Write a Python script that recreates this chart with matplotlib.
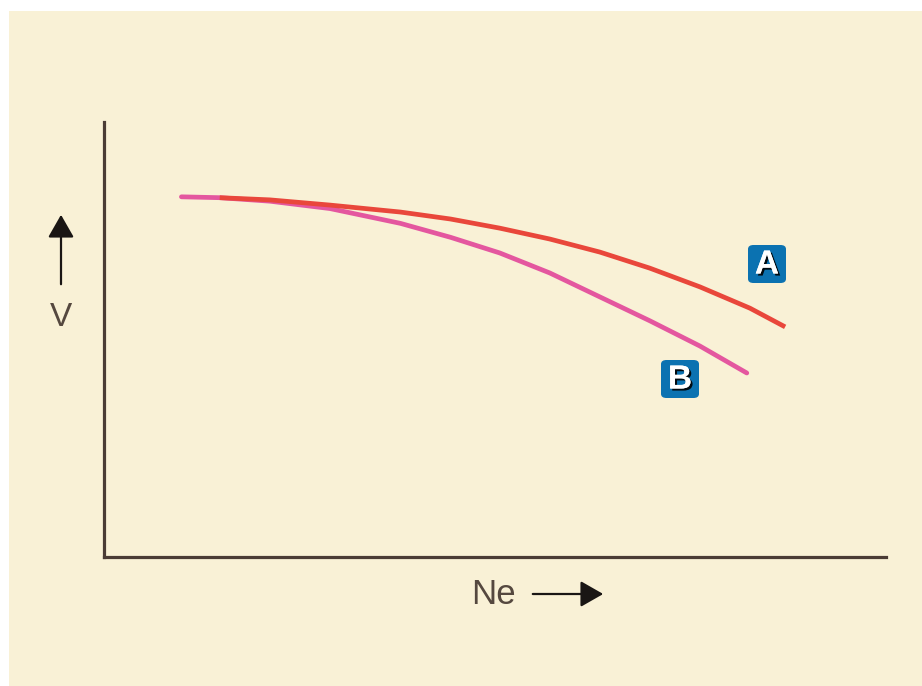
import matplotlib.pyplot as plt
import matplotlib.patheffects as pe
from matplotlib.patches import Rectangle, FancyBboxPatch, FancyArrowPatch

# values (arbitrary units, axes span 0..10)
ne_a = [1.48, 2.12, 2.89, 3.79, 4.43, 5.06, 5.70, 6.34, 6.98, 7.62, 8.26, 8.71]
v_a = [8.26, 8.21, 8.09, 7.93, 7.77, 7.56, 7.31, 7.01, 6.64, 6.21, 5.72, 5.29]
ne_b = [0.99, 1.48, 2.12, 2.89, 3.79, 4.43, 5.06, 5.70, 6.34, 6.98, 7.62, 8.22]
v_b = [8.28, 8.26, 8.18, 8.01, 7.67, 7.35, 6.99, 6.53, 5.98, 5.43, 4.85, 4.23]
curve_labels = ["A", "B"]

W, H = 922, 686


def px(x, y):
    return x / W, 1 - y / H


fig = plt.figure(figsize=(9.22, 6.86), dpi=100, facecolor="white")
fig.patches.append(Rectangle(px(9, 686), (W - 9) / W, (686 - 11) / H,
                             transform=fig.transFigure, facecolor="#f9f1d6",
                             edgecolor="none", zorder=-5))

ax = fig.add_axes([104 / W, 1 - 557 / H, (886 - 104) / W, (557 - 122) / H])
ax.set_facecolor("none")
ax.set_zorder(2)
ax.set_xlim(0, 10)
ax.set_ylim(0, 10)
for s in ["top", "right"]:
    ax.spines[s].set_visible(False)
for s in ["left", "bottom"]:
    ax.spines[s].set_color("#4b3c35")
    ax.spines[s].set_linewidth(2.3)
ax.set_xticks([])
ax.set_yticks([])

ax.plot(ne_b, v_b, color="#e4579f", lw=3.4, solid_capstyle="round",
        solid_joinstyle="round", zorder=2)
ax.plot(ne_a, v_a, color="#e9473b", lw=3.4, solid_capstyle="butt",
        solid_joinstyle="round", zorder=3)

# axis labels with arrows
txt_col = "#55483f"
fig.text(*px(61, 318), "V", ha="center", va="center", fontsize=24,
         family="Liberation Sans", color=txt_col)
fig.text(*px(493, 594), "Ne", ha="center", va="center", fontsize=25,
         family="Liberation Sans", color=txt_col)
fig.patches.append(FancyArrowPatch(px(61, 287), px(61, 212), transform=fig.transFigure,
                                   arrowstyle="-|>,head_length=7,head_width=4",
                                   color="#1a1614", lw=1.6, mutation_scale=2))
fig.patches.append(FancyArrowPatch(px(530, 594), px(606, 594), transform=fig.transFigure,
                                   arrowstyle="-|>,head_length=7,head_width=4",
                                   color="#1a1614", lw=1.6, mutation_scale=2))

# curve tags
for lab, (cx, cy) in zip(curve_labels, [(767, 264), (680, 379)]):
    x0, y0 = px(cx - 19, cy + 19)
    fig.patches.append(FancyBboxPatch((x0, y0), 38 / W, 38 / H, transform=fig.transFigure,
                                      boxstyle="round,pad=0,rounding_size=0.006",
                                      facecolor="#0b72b1", edgecolor="none", zorder=3))
    fig.text(*px(cx, cy + 1), lab, ha="center", va="center", fontsize=24,
             fontweight="bold", family="Liberation Sans", color="white", zorder=4,
             path_effects=[pe.withSimplePatchShadow(offset=(1.5, -1.5),
                                                    shadow_rgbFace="black", alpha=0.9),
                           pe.Normal()])

fig.savefig("out.png", dpi=100, facecolor="white")
